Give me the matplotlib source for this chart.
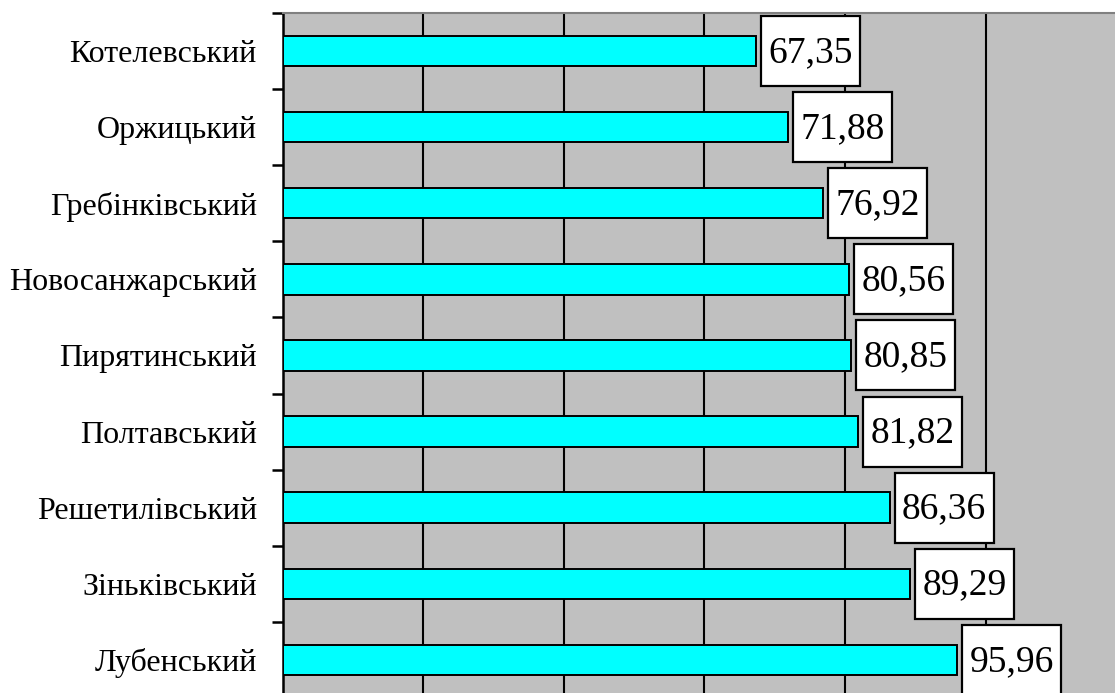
import matplotlib
matplotlib.use("Agg")
import matplotlib.pyplot as plt
from matplotlib.patches import Rectangle

# districts, top to bottom
districts = ["Котелевський", "Оржицький", "Гребінківський", "Новосанжарський",
             "Пирятинський", "Полтавський", "Решетилівський", "Зіньківський", "Лубенський"]
values = [67.35, 71.88, 76.92, 80.56, 80.85, 81.82, 86.36, 89.29, 95.96]
grid_x = [20, 40, 60, 80, 100]

plt.rcParams['font.family'] = ['Liberation Serif', 'DejaVu Serif']

fig = plt.figure(figsize=(11.15, 6.93), dpi=100)
ax = fig.add_axes([0.2534, -0.0072, 0.7466, 0.98846])
ax.set_facecolor('#C0C0C0')

pos = list(range(len(districts)))
ax.barh(pos, values, height=0.4, color='#00FFFF', edgecolor='black', linewidth=1.4, zorder=3)

for gx in grid_x:
    ax.axvline(gx, color='black', linewidth=1.5, zorder=1)

# value boxes
box_w, box_h, gap = 14.1, 0.92, 0.7
for p, v in zip(pos, values):
    ax.add_patch(Rectangle((v + gap, p - box_h / 2), box_w, box_h, facecolor='white',
                           edgecolor='black', linewidth=1.6, zorder=4))
    ax.text(v + gap + box_w / 2, p + 0.02, f"{v:.2f}".replace('.', ','), ha='center', va='center',
            fontsize=27, zorder=5)

ax.set_xlim(0, 118.4)
ax.set_ylim(len(districts) - 0.5, -0.5)
ax.set_yticks(pos)
ax.set_yticklabels(districts, fontsize=23)
ax.set_yticks([p - 0.5 for p in pos] + [len(pos) - 0.5], minor=True)
ax.tick_params(axis='y', which='major', length=0, pad=18.5)
ax.tick_params(axis='y', which='minor', length=8, width=1.8, direction='out')
ax.set_xticks([])

ax.spines['left'].set_linewidth(1.8)
ax.spines['top'].set_color('#808080')
ax.spines['top'].set_linewidth(1.5)
ax.spines['right'].set_visible(False)
ax.spines['bottom'].set_visible(False)

fig.savefig("out.png", dpi=100)
